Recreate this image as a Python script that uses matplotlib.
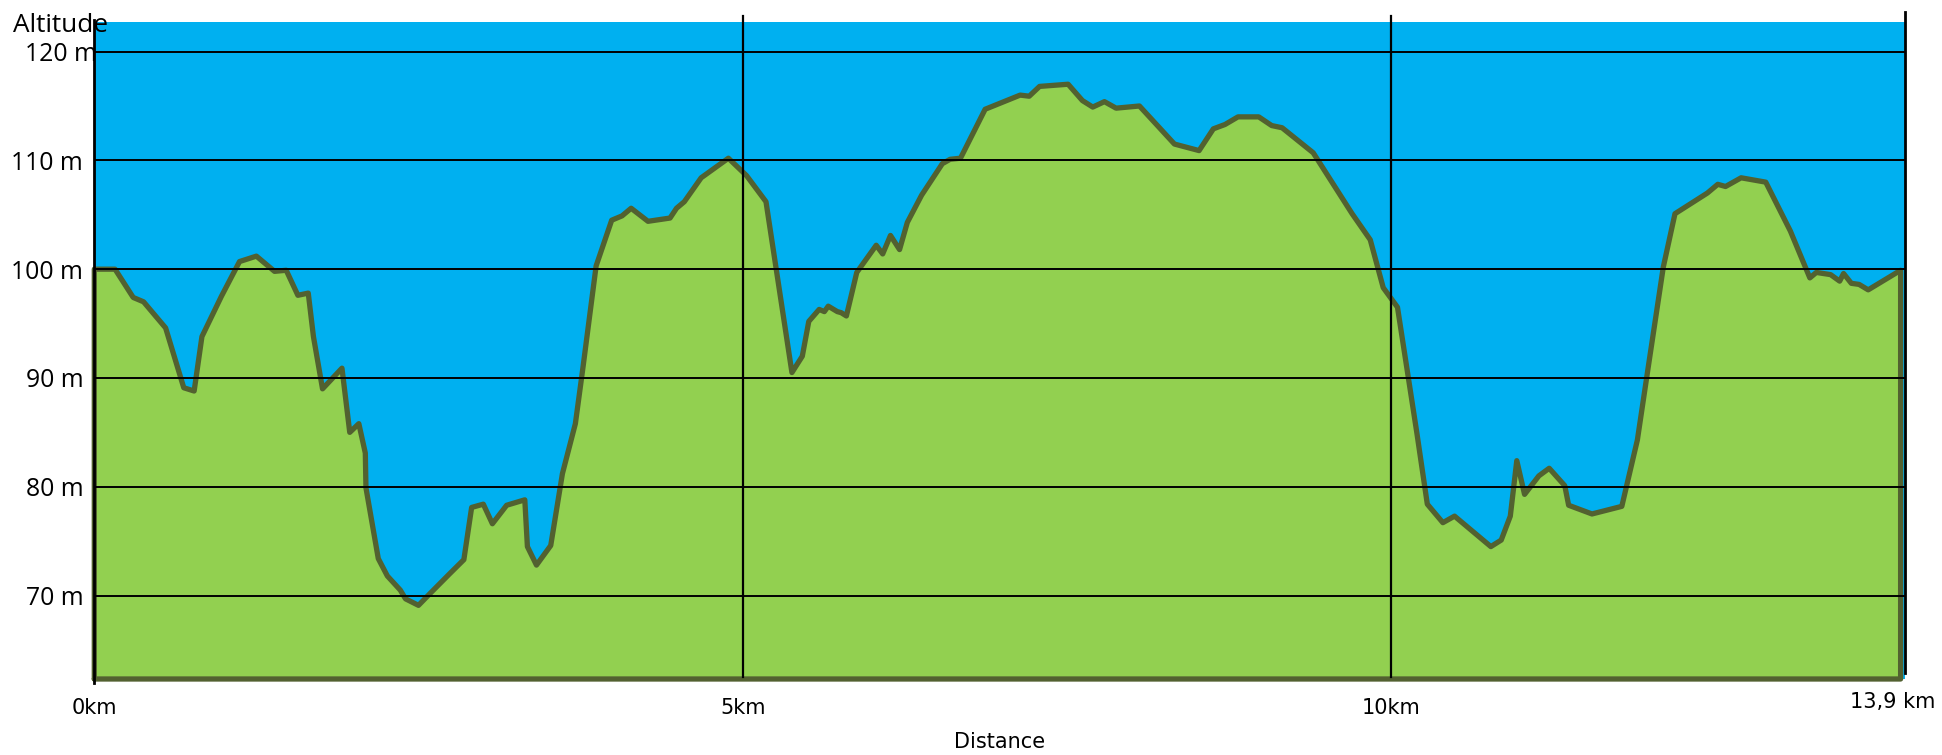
import matplotlib
matplotlib.use('Agg')
import matplotlib.pyplot as plt
from matplotlib.transforms import ScaledTranslation

# ---- data ----
distance_km = [0.00, 0.16, 0.30, 0.38, 0.55, 0.69, 0.77, 0.83, 0.98, 1.12,
               1.25, 1.39, 1.48, 1.57, 1.65, 1.69, 1.76, 1.91, 1.97, 2.04,
               2.09, 2.095, 2.19, 2.26, 2.36, 2.40, 2.50, 2.59, 2.74, 2.85,
               2.91, 3.00, 3.07, 3.18, 3.32, 3.34, 3.41, 3.52, 3.61, 3.71,
               3.77, 3.87, 3.99, 4.07, 4.14, 4.27, 4.44, 4.49, 4.55, 4.68,
               4.89, 5.03, 5.18, 5.38, 5.46, 5.51, 5.59, 5.63, 5.66, 5.73,
               5.76, 5.80, 5.88, 6.03, 6.08, 6.14, 6.21, 6.27, 6.38, 6.54,
               6.60, 6.68, 6.87, 7.14, 7.21, 7.29, 7.51, 7.62, 7.70, 7.79,
               7.88, 8.06, 8.33, 8.52, 8.63, 8.72, 8.82, 8.98, 9.08, 9.16,
               9.40, 9.70, 9.84, 9.94, 10.05, 10.12, 10.20, 10.28, 10.40, 10.49,
               10.77, 10.85, 10.92, 10.97, 11.03, 11.14, 11.22, 11.34, 11.37, 11.55,
               11.78, 11.90, 11.98, 12.10, 12.19, 12.44, 12.52, 12.58, 12.70, 12.89,
               13.08, 13.23, 13.28, 13.39, 13.46, 13.49, 13.55, 13.61, 13.68, 13.93]
altitude_m = [100.0, 100.0, 97.4, 97.0, 94.6, 89.1, 88.8, 93.8, 97.5, 100.7,
              101.2, 99.8, 99.9, 97.6, 97.8, 93.8, 89.0, 90.9, 85.0, 85.8,
              83.1, 79.9, 73.4, 71.8, 70.5, 69.7, 69.1, 70.2, 72.0, 73.3,
              78.1, 78.4, 76.6, 78.3, 78.8, 74.5, 72.8, 74.6, 81.2, 85.8,
              91.1, 100.3, 104.5, 104.9, 105.6, 104.4, 104.7, 105.6, 106.2, 108.4,
              110.2, 108.6, 106.2, 90.5, 92.0, 95.2, 96.3, 96.1, 96.6, 96.1,
              96.0, 95.7, 99.7, 102.2, 101.4, 103.1, 101.8, 104.3, 106.8, 109.7,
              110.1, 110.2, 114.7, 116.0, 115.9, 116.8, 117.0, 115.5, 114.9, 115.4,
              114.8, 115.0, 111.5, 110.9, 112.9, 113.3, 114.0, 114.0, 113.2, 113.0,
              110.7, 105.1, 102.7, 98.3, 96.5, 91.1, 84.9, 78.4, 76.7, 77.3,
              74.5, 75.1, 77.3, 82.4, 79.3, 81.0, 81.7, 80.1, 78.3, 77.5,
              78.2, 84.3, 90.7, 100.2, 105.1, 107.0, 107.8, 107.6, 108.4, 108.0,
              103.5, 99.2, 99.7, 99.5, 98.9, 99.6, 98.7, 98.6, 98.1, 99.9]

y_ticks = [70, 80, 90, 100, 110, 120]
y_tick_labels = ['70 m', '80 m', '90 m', '100 m', '110 m', '120 m']
x_ticks = [0, 5, 10, 13.9]
x_tick_labels = ['0km', '5km', '10km', '13,9 km']
x_grid = [5, 10]

W, H, DPI = 1942, 755, 100
fig = plt.figure(figsize=(W / DPI, H / DPI), dpi=DPI)
fig.patch.set_facecolor('white')

x_max = 13.96
y_min, y_max = 62.33, 122.72
ax = fig.add_axes([94.3 / W, (H - 679) / H, (1904.5 - 94.3) / W, (679 - 22) / H])
ax.set_xlim(0, x_max)
ax.set_ylim(y_min, y_max)
ax.set_facecolor('#00B0F0')
for s in ax.spines.values():
    s.set_visible(False)

# terrain fill and outline
ax.fill_between(distance_km, altitude_m, y_min, color='#92D050', linewidth=0, zorder=1)
ox = [distance_km[0]] + distance_km + [distance_km[-1], distance_km[0]]
oy = [y_min] + altitude_m + [y_min, y_min]
ax.plot(ox, oy, color='#526130', lw=3.8, solid_joinstyle='round',
        solid_capstyle='round', zorder=2, clip_on=False)

# grid lines
for yv in y_ticks:
    ax.axhline(yv, color='black', lw=1.4, zorder=3)
for xv in x_grid:
    ax.plot([xv, xv], [62.5, 123.3], color='black', lw=1.6, zorder=3, clip_on=False)
ax.plot([0, 0], [62.0, 122.9], color='black', lw=2.0, zorder=3, clip_on=False)
ax.plot([x_max, x_max], [62.9, 123.6], color='black', lw=2.0, zorder=3, clip_on=False)

# ticks
ax.set_yticks(y_ticks, y_tick_labels, fontsize=17.8, fontfamily='Open Sans')
ax.tick_params(axis='y', length=0, pad=8)
lab = ax.get_yticklabels()[-1]
lab.set_transform(lab.get_transform() + ScaledTranslation(14 / DPI, 0, fig.dpi_scale_trans))

ax.set_xticks(x_ticks, x_tick_labels, fontsize=15, fontfamily='DejaVu Sans')
ax.tick_params(axis='x', length=0, pad=14)
lab = ax.get_xticklabels()[-1]
lab.set_transform(lab.get_transform() + ScaledTranslation(-4 / DPI, 6 / DPI, fig.dpi_scale_trans))

ax.set_xlabel('Distance', fontsize=15, fontfamily='DejaVu Sans', labelpad=10)
fig.text(13 / W, 1 - 25 / H, 'Altitude', fontsize=18.8, fontfamily='Open Sans',
         ha='left', va='center')

fig.savefig('out.png', dpi=DPI)
